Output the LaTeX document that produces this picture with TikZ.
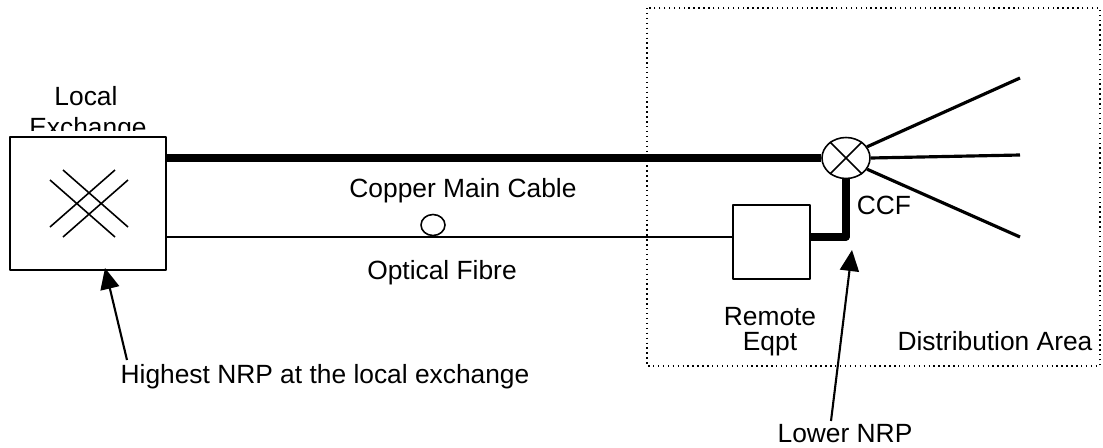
\documentclass[tikz,border=0pt]{standalone}
\usepackage{fontspec}
\setmainfont{Liberation Sans}
\usetikzlibrary{arrows.meta,positioning,shapes.geometric}
\begin{document}
\begin{tikzpicture}[x=0.02cm,y=-0.02cm,>={Triangle[length=0.42cm,width=0.38cm]},
		font=\fontsize{15}{17}\selectfont, line join=round,
		box/.style={draw,line width=0.9pt,fill=white,inner sep=0pt},
		joint/.style={draw,ellipse,line width=0.9pt,fill=white,inner sep=0pt},
		label/.style={inner sep=0pt,anchor=base}]
		\useasboundingbox (0,0) rectangle (1103,447);
		% distribution area
		\draw[dotted,line width=0.8pt] (647,8) rectangle (1100,366);
		\node[label] (local) at (86,105) {Local};
		\begin{scope}
			\clip (0,0) rectangle (300,130);
			\node[label] (exch) at (88,136) {Exchange};
		\end{scope}
		\node[box,minimum width=3.12cm,minimum height=2.66cm] (lex) at (88,203.5) {};
		\draw[line width=0.9pt] (50,180)--(115,237) (63,170)--(128,227)
		(50,227)--(115,170) (63,237)--(128,180);
		\node[box,minimum width=1.54cm,minimum height=1.48cm] (req) at (771.5,242) {};
		\node[joint,minimum width=0.96cm,minimum height=0.82cm] (ccf) at (846,158) {};
		\draw[line width=0.9pt] (ccf.135)--(ccf.-45) (ccf.45)--(ccf.-135);
		\coordinate (d1) at (1020,78);
		\coordinate (d2) at (1020,155);
		\coordinate (d3) at (1020,237);
		\draw[line width=1.8pt] (ccf.28)--(d1) (ccf.east)--(d2) (ccf.-28)--(d3);
		% cables
		\draw[line width=4.6pt] (lex.east |- ccf.west)--(ccf.west);
		\draw[line width=0.9pt] (lex.east |- 0,237)--(req.west |- 0,237);
		\node[joint,minimum width=0.48cm,minimum height=0.42cm] (cab) at (433,225) {};
		\draw[line width=4pt] (ccf.south)--(ccf.south |- 0,237)--(req.east |- 0,237);
		\node[label] (cmc) at (463,197) {Copper Main Cable};
		\node[label] (fib) at (442,279) {Optical Fibre};
		\node[label] (ccflab) at (884,214) {CCF};
		\node[label] (rem) at (770,325) {Remote};
		\node[label] (eqpt) at (770,350) {Eqpt};
		\node[label] (dist) at (995,350) {Distribution Area};
		% reference points
		\node[label] (hnrp) at (325,383) {Highest NRP at the local exchange};
		\node[label] (lnrp) at (845,442) {Lower NRP};
		\coordinate (tipa) at (105,268);
		\coordinate (tipb) at (852,250);
		\draw[->,line width=1.2pt] (127,360)--(tipa);
		\draw[->,line width=1.2pt] (831,421)--(tipb);
\end{tikzpicture}
\end{document}
